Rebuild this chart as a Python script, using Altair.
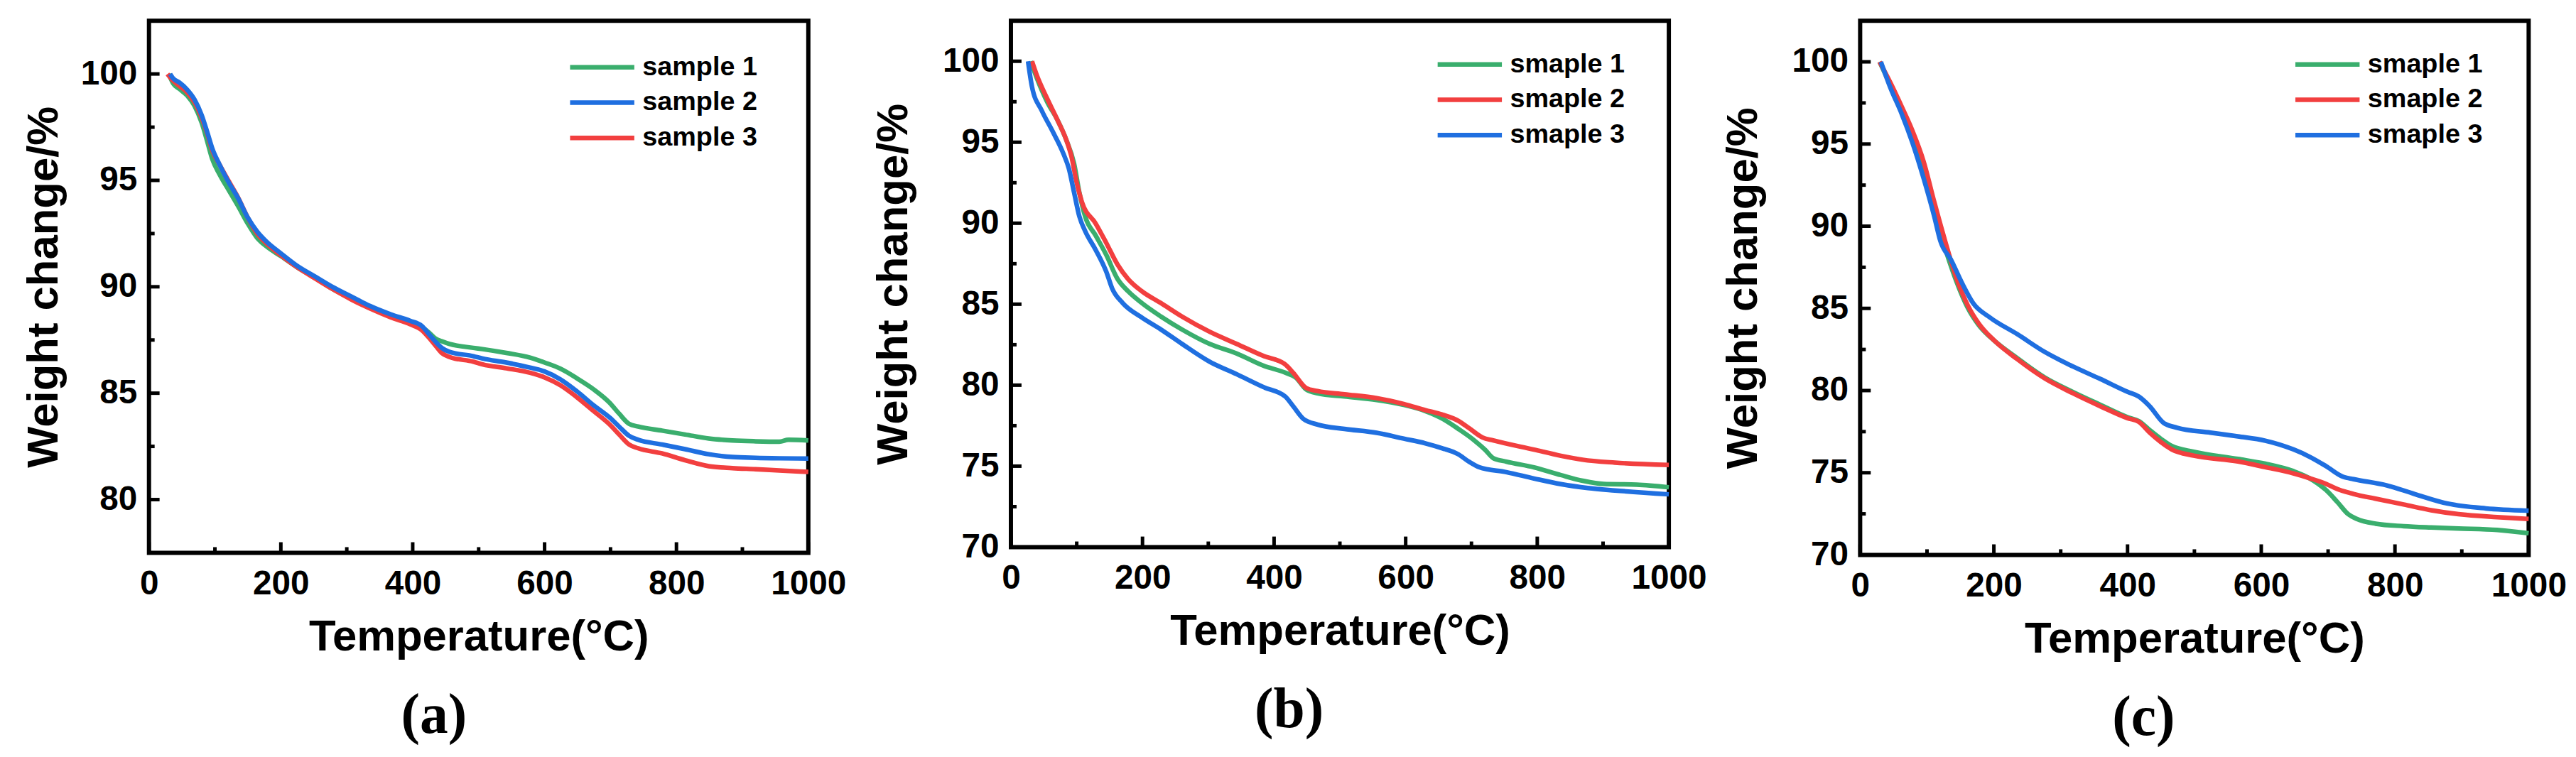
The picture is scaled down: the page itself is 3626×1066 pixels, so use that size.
import altair as alt
import pandas as pd

FONT = "Liberation Sans"
SERIF = "Liberation Serif"
GREEN = "#3aae6d"
BLUE = "#1f6fe0"
RED = "#f23f3f"

X_MAJOR = [0, 200, 400, 600, 800, 1000]
X_MINOR = [100, 300, 500, 700, 900]

# ---------------- panel (a) ----------------
A_NAMES = ["sample 1", "sample 2", "sample 3"]
A_COLORS = [GREEN, BLUE, RED]
A_Y_MAJOR = [80, 85, 90, 95, 100]
A_Y_MINOR = [82.5, 87.5, 92.5, 97.5]

A1_T = [30, 37, 46, 58, 69, 80, 89, 96, 107, 121, 135, 150, 164, 178, 200, 224, 253, 278, 307, 335, 367, 396, 414, 424, 435, 444, 456, 492, 506, 542, 578, 600, 624, 649, 674, 699, 713, 728, 742, 778, 813, 849, 885, 920, 956, 970, 1000]
A1_W = [100, 99.54, 99.3, 98.98, 98.5, 97.7, 96.76, 96.0, 95.28, 94.54, 93.8, 92.96, 92.3, 91.9, 91.44, 90.93, 90.4, 89.9, 89.44, 89.04, 88.67, 88.37, 88.1, 87.87, 87.56, 87.44, 87.31, 87.13, 87.07, 86.89, 86.67, 86.44, 86.15, 85.7, 85.19, 84.54, 84.04, 83.56, 83.43, 83.24, 83.06, 82.87, 82.78, 82.74, 82.72, 82.81, 82.78]

A2_T = [32, 37, 46, 58, 69, 80, 89, 96, 107, 121, 135, 150, 164, 178, 200, 224, 253, 278, 307, 335, 367, 396, 414, 424, 435, 444, 456, 492, 506, 542, 578, 600, 624, 649, 674, 699, 713, 728, 742, 778, 813, 849, 885, 920, 956, 1000]
A2_W = [100, 99.78, 99.6, 99.26, 98.8, 98.06, 97.2, 96.5, 95.74, 94.9, 94.17, 93.24, 92.6, 92.13, 91.57, 91.0, 90.46, 90.0, 89.54, 89.1, 88.7, 88.4, 88.15, 87.8, 87.4, 87.13, 86.94, 86.74, 86.63, 86.44, 86.2, 86.02, 85.65, 85.09, 84.44, 83.85, 83.43, 83.0, 82.81, 82.59, 82.37, 82.13, 82.0, 81.96, 81.94, 81.93]

A3_T = [28, 37, 46, 58, 69, 80, 89, 96, 107, 121, 135, 150, 164, 178, 200, 224, 253, 278, 307, 335, 367, 396, 414, 424, 435, 444, 456, 492, 506, 542, 578, 600, 624, 649, 674, 699, 713, 728, 742, 778, 813, 849, 885, 920, 956, 1000]
A3_W = [100, 99.67, 99.44, 99.13, 98.67, 97.93, 97.13, 96.4, 95.74, 94.96, 94.2, 93.24, 92.5, 92.04, 91.48, 90.93, 90.37, 89.9, 89.4, 88.98, 88.56, 88.24, 87.96, 87.63, 87.22, 86.89, 86.7, 86.48, 86.35, 86.17, 85.96, 85.74, 85.37, 84.81, 84.17, 83.52, 83.06, 82.59, 82.41, 82.17, 81.85, 81.57, 81.48, 81.43, 81.37, 81.3]

# ---------------- panel (b) ----------------
B_NAMES = ["smaple 1", "smaple 2", "smaple 3"]
B_COLORS = [GREEN, RED, BLUE]
BC_Y_MAJOR = [70, 75, 80, 85, 90, 95, 100]
BC_Y_MINOR = [72.5, 77.5, 82.5, 87.5, 92.5, 97.5]

B1_T = [30, 39, 55, 71, 84, 96, 104, 113, 129, 145, 162, 178, 199, 228, 260, 302, 343, 384, 417, 433, 449, 466, 507, 556, 597, 630, 655, 680, 704, 721, 733, 753, 795, 836, 869, 901, 951, 1000]
B1_W = [100, 99.0, 97.5, 96.35, 95.16, 93.68, 91.9, 90.4, 89.23, 88.04, 86.56, 85.8, 85.07, 84.24, 83.44, 82.55, 81.96, 81.2, 80.77, 80.47, 79.73, 79.5, 79.3, 79.08, 78.78, 78.4, 77.95, 77.3, 76.6, 76.0, 75.5, 75.28, 74.93, 74.45, 74.1, 73.9, 73.86, 73.7]

B2_T = [32, 39, 55, 71, 84, 92, 100, 108, 129, 145, 162, 178, 199, 228, 260, 302, 343, 384, 417, 429, 449, 466, 507, 556, 597, 630, 655, 680, 696, 717, 733, 795, 836, 869, 918, 1000]
B2_W = [100, 99.17, 97.7, 96.35, 95.16, 94.12, 92.5, 91.3, 89.97, 88.78, 87.45, 86.56, 85.8, 85.07, 84.24, 83.3, 82.55, 81.8, 81.28, 80.77, 79.82, 79.64, 79.44, 79.2, 78.84, 78.46, 78.19, 77.8, 77.36, 76.77, 76.59, 76.02, 75.64, 75.4, 75.22, 75.07]

B3_T = [26, 32, 47, 63, 80, 88, 96, 104, 113, 129, 145, 154, 170, 199, 228, 260, 302, 343, 384, 417, 429, 445, 466, 507, 556, 597, 630, 655, 680, 696, 712, 753, 795, 836, 877, 918, 1000]
B3_W = [100, 98.43, 96.94, 95.7, 94.27, 93.38, 91.9, 90.42, 89.5, 88.34, 87.0, 85.96, 85.07, 84.18, 83.44, 82.55, 81.45, 80.68, 79.88, 79.3, 78.7, 77.9, 77.57, 77.3, 77.06, 76.7, 76.41, 76.11, 75.73, 75.28, 74.93, 74.63, 74.24, 73.89, 73.65, 73.5, 73.26]

# ---------------- panel (c) ----------------
C_NAMES = ["smaple 1", "smaple 2", "smaple 3"]
C_COLORS = [GREEN, RED, BLUE]

C1_T = [29, 45, 62, 78, 95, 111, 128, 144, 161, 177, 202, 235, 276, 318, 359, 400, 417, 433, 450, 466, 499, 565, 606, 648, 672, 697, 714, 730, 743, 771, 813, 854, 895, 953, 1000]
C1_W = [100, 98.6, 97.14, 95.54, 93.5, 90.87, 88.53, 86.64, 85.03, 84.0, 82.99, 81.97, 80.8, 79.92, 79.14, 78.38, 78.14, 77.6, 77.06, 76.63, 76.28, 75.84, 75.55, 75.1, 74.67, 73.94, 73.21, 72.48, 72.19, 71.9, 71.75, 71.67, 71.61, 71.52, 71.32]

C2_T = [29, 45, 62, 78, 95, 111, 128, 144, 161, 177, 202, 235, 276, 318, 359, 400, 417, 433, 450, 466, 499, 565, 606, 648, 672, 697, 714, 738, 771, 813, 854, 895, 953, 1000]
C2_W = [100, 98.75, 97.29, 95.83, 93.93, 91.45, 88.97, 86.84, 85.18, 84.1, 82.99, 81.91, 80.74, 79.84, 79.05, 78.32, 78.09, 77.44, 76.86, 76.42, 76.04, 75.69, 75.34, 74.96, 74.67, 74.32, 74.0, 73.71, 73.42, 73.07, 72.72, 72.48, 72.3, 72.19]

C3_T = [31, 45, 62, 78, 95, 111, 120, 136, 153, 169, 194, 235, 276, 318, 359, 400, 417, 433, 454, 474, 524, 565, 606, 648, 672, 697, 722, 738, 788, 829, 879, 936, 1000]
C3_W = [100, 98.45, 96.85, 95.1, 92.9, 90.57, 89.1, 87.95, 86.49, 85.32, 84.45, 83.43, 82.35, 81.47, 80.71, 79.92, 79.63, 79.05, 78.03, 77.74, 77.44, 77.21, 76.95, 76.42, 75.98, 75.4, 74.76, 74.61, 74.23, 73.71, 73.12, 72.83, 72.69]


def make_df(series):
    rows = []
    for name, ts, ws in series:
        for t, w in zip(ts, ws):
            rows.append({"series": name, "T": t, "W": w})
    return pd.DataFrame(rows)


def panel(series, names, colors, draw_order, ydom, ymajor, yminor, w, h, lx, ly, tag, ytpad):
    df = make_df(series)
    xs = alt.Scale(domain=[0, 1000], nice=False, zero=False)
    ys = alt.Scale(domain=ydom, nice=False, zero=False)
    x_axis = alt.Axis(values=X_MAJOR, title="Temperature(°C)", format="d",
                      domain=False, ticks=False, grid=False, labelFlush=False,
                      labelOverlap=False, labelPadding=20, titlePadding=21)
    y_axis = alt.Axis(values=ymajor, title="Weight change/%", format="d",
                      domain=False, ticks=False, grid=False, labelFlush=False,
                      labelOverlap=False, labelPadding=17, titlePadding=ytpad)
    xenc = alt.X("T:Q", scale=xs, axis=x_axis)
    yenc = alt.Y("W:Q", scale=ys, axis=y_axis)
    cenc = alt.Color("series:N", scale=alt.Scale(domain=names, range=colors),
                     legend=alt.Legend(orient="none", legendX=lx, legendY=ly, title=None,
                                       symbolType="stroke", symbolStrokeWidth=6.5,
                                       symbolSize=8281, labelFont=FONT,
                                       labelFontWeight="bold", labelFontSize=38,
                                       labelColor="black", labelOffset=8,
                                       labelLimit=400, rowPadding=10,
                                       clipHeight=40, padding=0))
    base = alt.Chart(df)
    line_layers = [
        base.transform_filter(alt.datum.series == name)
        .mark_line(strokeWidth=6.5, interpolate="monotone")
        .encode(x=xenc, y=yenc, color=cenc)
        for name in draw_order
    ]
    xmaj = alt.Chart(pd.DataFrame({"T": X_MAJOR})).mark_rule(strokeWidth=5, color="black").encode(
        x=xenc, y=alt.value(h), y2=alt.value(h - 15))
    xmin = alt.Chart(pd.DataFrame({"T": X_MINOR})).mark_rule(strokeWidth=5, color="black").encode(
        x=xenc, y=alt.value(h), y2=alt.value(h - 8))
    ymaj = alt.Chart(pd.DataFrame({"W": ymajor})).mark_rule(strokeWidth=5, color="black").encode(
        y=yenc, x=alt.value(0), x2=alt.value(15))
    ymin = alt.Chart(pd.DataFrame({"W": yminor})).mark_rule(strokeWidth=5, color="black").encode(
        y=yenc, x=alt.value(0), x2=alt.value(8))
    return alt.layer(*line_layers, xmaj, xmin, ymaj, ymin).properties(
        width=w, height=h,
        title=alt.TitleParams(tag, orient="bottom", anchor="middle", frame="bounds",
                              font=SERIF, fontSize=80, fontWeight="bold",
                              color="black", offset=42),
    )


pa = panel([(A_NAMES[0], A1_T, A1_W), (A_NAMES[1], A2_T, A2_W), (A_NAMES[2], A3_T, A3_W)],
           A_NAMES, A_COLORS, ["sample 1", "sample 3", "sample 2"],
           [77.5, 102.5], A_Y_MAJOR, A_Y_MINOR, 934, 754, 593, 46, "(a)", 20)
pb = panel([(B_NAMES[0], B1_T, B1_W), (B_NAMES[1], B2_T, B2_W), (B_NAMES[2], B3_T, B3_W)],
           B_NAMES, B_COLORS, ["smaple 1", "smaple 2", "smaple 3"],
           [70, 102.5], BC_Y_MAJOR, BC_Y_MINOR, 932, 746, 601, 42, "(b)", 37)
pc = panel([(C_NAMES[0], C1_T, C1_W), (C_NAMES[1], C2_T, C2_W), (C_NAMES[2], C3_T, C3_W)],
           C_NAMES, C_COLORS, ["smaple 1", "smaple 2", "smaple 3"],
           [70, 102.5], BC_Y_MAJOR, BC_Y_MINOR, 947, 757, 613, 42, "(c)", 37)

ab = alt.hconcat(pa, pb, spacing=29).resolve_scale(x="independent", y="independent", color="independent")
chart = alt.hconcat(ab, pc, spacing=13).resolve_scale(
    x="independent", y="independent", color="independent"
).properties(
    padding={"left": 19, "top": 15, "right": 2, "bottom": 2}
).configure_view(
    stroke="black", strokeWidth=6
).configure_axis(
    labelFont=FONT, labelFontWeight="bold", labelFontSize=48, labelColor="black",
    titleFont=FONT, titleFontWeight="bold", titleFontSize=62, titleColor="black",
)

chart.save("out.html", embed_options={"renderer": "svg", "actions": False})
